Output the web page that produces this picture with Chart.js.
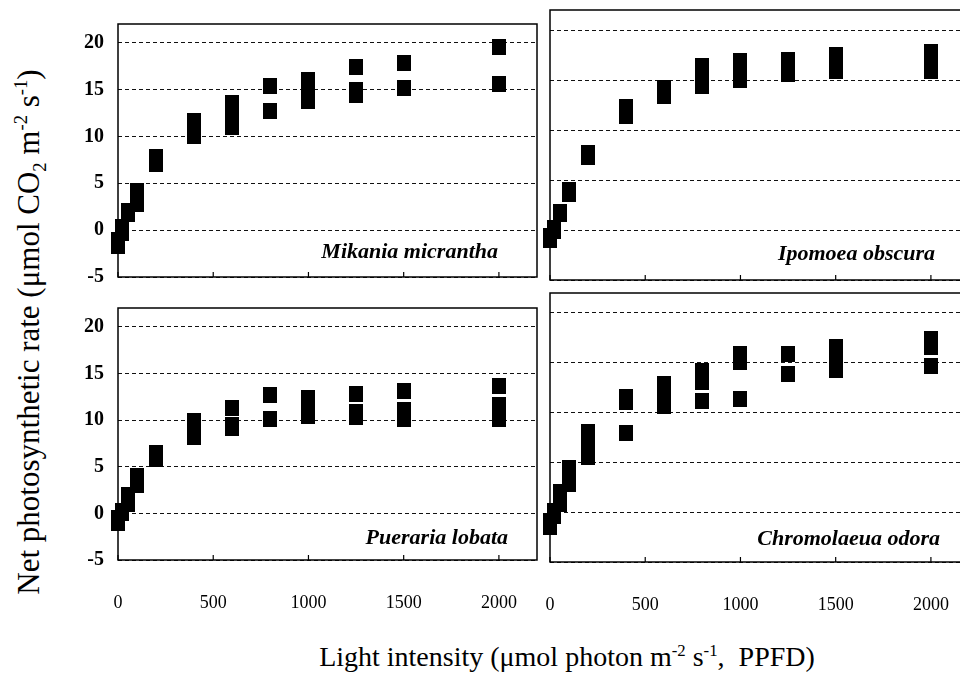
<!DOCTYPE html>
<html>
<head>
<meta charset="utf-8">
<script src="https://cdn.jsdelivr.net/npm/chart.js@4.4.0/dist/chart.umd.min.js"></script>
<style>
  html, body { margin: 0; padding: 0; background: #fff; width: 960px; height: 675px; overflow: hidden; }
  canvas { position: absolute; }
  .axtitle { position: absolute; font-family: "Liberation Serif", "Times New Roman", serif; color: #000; line-height: 1; white-space: nowrap; text-align: center; }
  .axtitle sup, .axtitle sub { font-size: 0.6em; line-height: 0; }
  #xtitle { left: 267px; width: 600px; top: 643px; font-size: 28px; }
  #ytitle { left: 28px; top: 332px; width: 640px; font-size: 31px; transform: translate(-50%, -50%) rotate(-90deg); }
</style>
</head>
<body>
<canvas id="p1"></canvas>
<canvas id="p2"></canvas>
<canvas id="p3"></canvas>
<canvas id="p4"></canvas>
<div class="axtitle" id="xtitle">Light intensity (&mu;mol photon m<sup>-2</sup> s<sup>-1</sup>,&nbsp; PPFD)</div>
<div class="axtitle" id="ytitle">Net photosynthetic rate (&mu;mol CO<sub>2</sub> m<sup>-2</sup> s<sup>-1</sup>)</div>
<script>
// tick labels
var xTicks = [0, 500, 1000, 1500, 2000];
var yTicks = [-5, 0, 5, 10, 15, 20];

// Mikania micrantha
var mikaniaX = [0, 0, 20, 20, 50, 50, 100, 100, 100, 200, 200, 400, 400, 400, 600, 600, 600, 800, 800, 1000, 1000, 1000, 1250, 1250, 1250, 1500, 1500, 2000, 2000];
var mikaniaY = [-1.7, -1.0, -0.3, 0.3, 1.7, 2.0, 2.8, 3.5, 4.2, 7.1, 7.8, 10.1, 10.9, 11.7, 11.0, 11.9, 13.6, 12.7, 15.4, 13.8, 14.4, 16.0, 14.4, 15.0, 17.4, 15.2, 17.8, 15.6, 19.5];

// Ipomoea obscura
var ipomoeaX = [0, 0, 20, 20, 50, 50, 100, 100, 200, 200, 400, 400, 600, 600, 800, 800, 800, 1000, 1000, 1000, 1250, 1250, 1250, 1500, 1500, 1500, 2000, 2000, 2000];
var ipomoeaY = [-1.0, -0.6, -0.1, 0.2, 1.6, 1.8, 3.6, 4.0, 7.3, 7.7, 11.4, 12.3, 13.4, 14.2, 14.4, 15.4, 16.4, 15.0, 16.0, 16.9, 15.6, 16.3, 17.0, 15.9, 16.7, 17.5, 15.9, 16.8, 17.8];

// Pueraria lobata
var puerariaX = [0, 0, 20, 20, 50, 50, 100, 100, 200, 200, 400, 400, 400, 600, 600, 600, 800, 800, 1000, 1000, 1000, 1250, 1250, 1250, 1500, 1500, 1500, 2000, 2000, 2000];
var puerariaY = [-1.0, -0.5, 0.0, 0.3, 1.0, 2.0, 3.0, 4.0, 5.8, 6.5, 8.2, 9.0, 9.9, 9.1, 9.5, 11.3, 10.1, 12.7, 10.4, 11.4, 12.4, 10.3, 10.9, 12.8, 10.1, 11.1, 13.1, 10.1, 11.6, 13.6];

// Chromolaeua odora
var chromoX = [0, 0, 20, 20, 50, 50, 100, 100, 100, 200, 200, 200, 400, 400, 400, 600, 600, 600, 800, 800, 800, 1000, 1000, 1000, 1250, 1250, 1500, 1500, 1500, 2000, 2000, 2000];
var chromoY = [-1.5, -0.9, -0.4, 0.1, 0.8, 2.0, 2.8, 3.6, 4.4, 5.5, 6.8, 8.0, 7.9, 11.1, 11.6, 10.7, 12.2, 12.9, 11.2, 13.1, 14.2, 11.4, 15.1, 15.9, 13.9, 15.9, 14.3, 15.4, 16.6, 14.7, 16.6, 17.4];

Chart.defaults.font.family = '"Liberation Serif", "Times New Roman", serif';
Chart.defaults.color = '#000';

// black square marker, a bit taller than wide like the printed one
var square = document.createElement('canvas');
square.width = 14;
square.height = 16;
var sg = square.getContext('2d');
sg.fillStyle = '#000';
sg.fillRect(0, 0, 14, 16);

// frame, inward x ticks and species name
var panelPlugin = {
    id: 'panel',
    afterDraw: function(chart, args, opts) {
        var ctx = chart.ctx;
        var a = chart.chartArea;
        var x = chart.scales.x;
        ctx.save();
        ctx.strokeStyle = '#000';
        ctx.lineWidth = 1.5;
        ctx.strokeRect(a.left, a.top, a.right - a.left, a.bottom - a.top);
        ctx.lineWidth = 1.2;
        xTicks.forEach(function(v) {
            var px = x.getPixelForValue(v);
            ctx.beginPath();
            ctx.moveTo(px, a.bottom);
            ctx.lineTo(px, a.bottom - 5);
            ctx.stroke();
        });
        ctx.font = 'italic bold 22px "Liberation Serif"';
        ctx.textAlign = 'right';
        ctx.textBaseline = 'alphabetic';
        ctx.fillStyle = '#000';
        ctx.fillText(opts.name, a.right - opts.dx, a.bottom - opts.dy);
        ctx.restore();
    }
};

var PAD_L = 60, PAD_T = 10, PAD_R = 10, PAD_B = 60;

function makePanel(id, box, name, xs, ys, showX, showY, dx, dy) {
    var cv = document.getElementById(id);
    cv.width = box.w + PAD_L + PAD_R;
    cv.height = box.h + PAD_T + PAD_B;
    cv.style.left = (box.left - PAD_L) + 'px';
    cv.style.top = (box.top - PAD_T) + 'px';

    var points = xs.map(function(v, i) { return { x: v, y: ys[i] }; });

    return new Chart(cv.getContext('2d'), {
        type: 'scatter',
        data: {
            datasets: [{
                data: points,
                pointStyle: square,
                pointRadius: 8,
                backgroundColor: '#000',
                clip: false
            }]
        },
        plugins: [panelPlugin],
        options: {
            responsive: false,
            animation: false,
            devicePixelRatio: 1,
            layout: { padding: { left: 0, top: PAD_T, right: PAD_R, bottom: 0 } },
            plugins: {
                legend: { display: false },
                tooltip: { enabled: false },
                panel: { name: name, dx: dx, dy: dy }
            },
            scales: {
                x: {
                    type: 'linear',
                    min: 0,
                    max: 2200,
                    grid: { display: false },
                    border: { display: false },
                    ticks: {
                        display: showX, padding: 24, maxRotation: 0, autoSkip: false, font: { size: 18 },
                        callback: function(v) { return String(v); }
                    },
                    afterBuildTicks: function(s) { s.ticks = xTicks.map(function(v) { return { value: v }; }); },
                    afterFit: function(s) { s.height = PAD_B; }
                },
                y: {
                    min: -5,
                    max: 22,
                    grid: { color: '#111', lineWidth: 1, drawTicks: false },
                    border: { display: false, dash: [4, 3] },
                    ticks: {
                        display: showY, padding: 14, font: { size: 20, weight: 'bold' },
                        callback: function(v) { return String(v); }
                    },
                    afterBuildTicks: function(s) { s.ticks = yTicks.map(function(v) { return { value: v }; }); },
                    afterFit: function(s) { s.width = PAD_L; }
                }
            }
        }
    });
}

makePanel('p1', { left: 118, top: 8, w: 419, h: 269 }, 'Mikania micrantha', mikaniaX, mikaniaY, false, true, 39, 19);
makePanel('p2', { left: 550, top: 10, w: 419, h: 270 }, 'Ipomoea obscura', ipomoeaX, ipomoeaY, false, false, 34, 20);
makePanel('p3', { left: 118, top: 292, w: 419, h: 268 }, 'Pueraria lobata', puerariaX, puerariaY, true, true, 29, 16);
makePanel('p4', { left: 550, top: 293, w: 419, h: 269 }, 'Chromolaeua odora', chromoX, chromoY, true, false, 29, 17);
</script>
</body>
</html>
